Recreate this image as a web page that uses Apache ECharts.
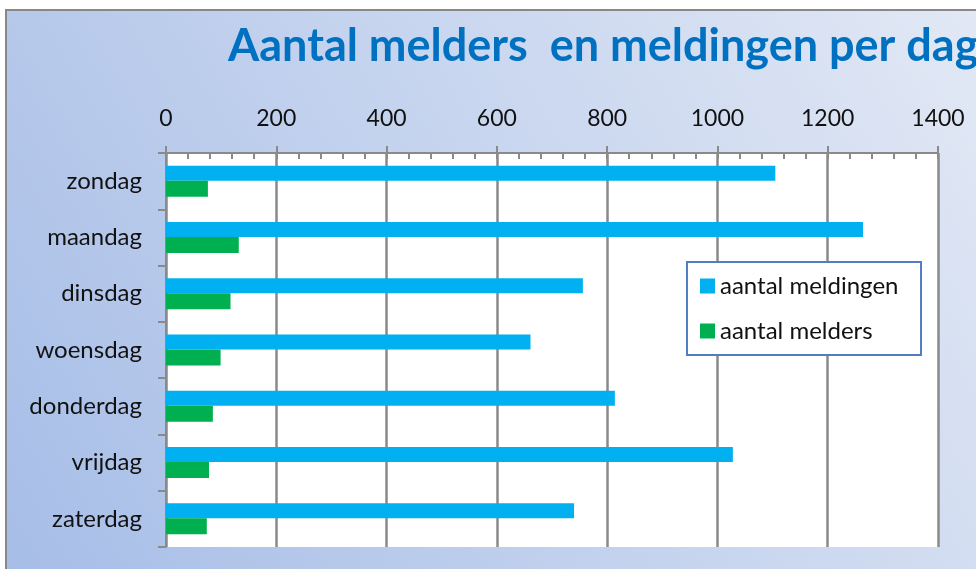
<!DOCTYPE html>
<html>
<head>
<meta charset="utf-8">
<style>
  html, body { margin: 0; padding: 0; background: #fff; }
  #chart { width: 976px; height: 569px; }
</style>
<script src="https://cdn.jsdelivr.net/npm/echarts@6/dist/echarts.min.js"></script>
</head>
<body>
<div id="chart"></div>
<script>
var days = ['zondag', 'maandag', 'dinsdag', 'woensdag', 'donderdag', 'vrijdag', 'zaterdag'];
var meldingen = [1105, 1264, 756, 661, 814, 1028, 740];
var melders = [76, 132, 117, 99, 85, 78, 74];
var xMin = 0, xMax = 1400, xStep = 200, xMinorStep = 40;

var font = 'Lato';
var chart = echarts.init(document.getElementById('chart'));

chart.setOption({
  backgroundColor: '#fff',
  animation: false,
  graphic: [{
    type: 'rect',
    z: -10,
    shape: { x: 6, y: 10, width: 990, height: 580 },
    style: {
      fill: new echarts.graphic.LinearGradient(0, 1, 1, 0, [
        { offset: 0, color: '#a6bde7' },
        { offset: 1, color: '#e3e9f5' }
      ]),
      stroke: '#888',
      lineWidth: 2
    }
  }],
  title: {
    text: 'Aantal melders  en meldingen per dag',
    left: 223,
    top: 19,
    textStyle: { fontFamily: font, fontSize: 45, fontWeight: 'bold', color: '#0070c0' }
  },
  legend: {
    orient: 'vertical',
    left: 687,
    top: 262,
    padding: [12, 15, 12, 13],
    itemGap: 21,
    itemWidth: 15,
    itemHeight: 15,
    icon: 'rect',
    backgroundColor: '#fff',
    borderColor: '#4f7fc0',
    borderWidth: 2,
    borderRadius: 0,
    textStyle: { fontFamily: font, fontSize: 24, color: '#111', lineHeight: 24, width: 186 },
    data: ['aantal meldingen', 'aantal melders']
  },
  grid: {
    left: 166, right: 38, top: 153, bottom: 22,
    show: true, backgroundColor: '#fff', borderWidth: 0
  },
  xAxis: [{
    type: 'value',
    position: 'top',
    min: xMin, max: xMax, interval: xStep,
    axisLine: { show: true, lineStyle: { color: '#8a8a8a', width: 2 } },
    axisTick: { show: true, length: 7, lineStyle: { color: '#8a8a8a', width: 2 } },
    axisLabel: { margin: 23, fontFamily: font, fontSize: 23, color: '#111', formatter: function (v) { return String(v); } },
    splitLine: { show: true, lineStyle: { color: '#8a8a8a', width: 2.5 } }
  }, {
    type: 'value',
    position: 'top',
    min: xMin, max: xMax, interval: xMinorStep,
    axisLine: { show: false },
    axisTick: { show: true, inside: true, length: 6, lineStyle: { color: '#8a8a8a', width: 2 } },
    axisLabel: { show: false },
    splitLine: { show: false }
  }],
  yAxis: {
    type: 'category',
    inverse: true,
    data: days,
    axisLine: { show: true, lineStyle: { color: '#8a8a8a', width: 2 } },
    axisTick: { show: true, length: 8, lineStyle: { color: '#8a8a8a', width: 2 } },
    axisLabel: { margin: 24, fontFamily: font, fontSize: 24, color: '#111' },
    splitLine: { show: false }
  },
  series: [{
    name: 'aantal meldingen',
    type: 'bar',
    xAxisIndex: 0,
    data: meldingen,
    barWidth: 15,
    barGap: '0%',
    itemStyle: { color: '#00b0f0' }
  }, {
    name: 'aantal melders',
    type: 'bar',
    xAxisIndex: 0,
    data: melders,
    barWidth: 16,
    barGap: '0%',
    itemStyle: { color: '#00b050' }
  }]
});
</script>
</body>
</html>
